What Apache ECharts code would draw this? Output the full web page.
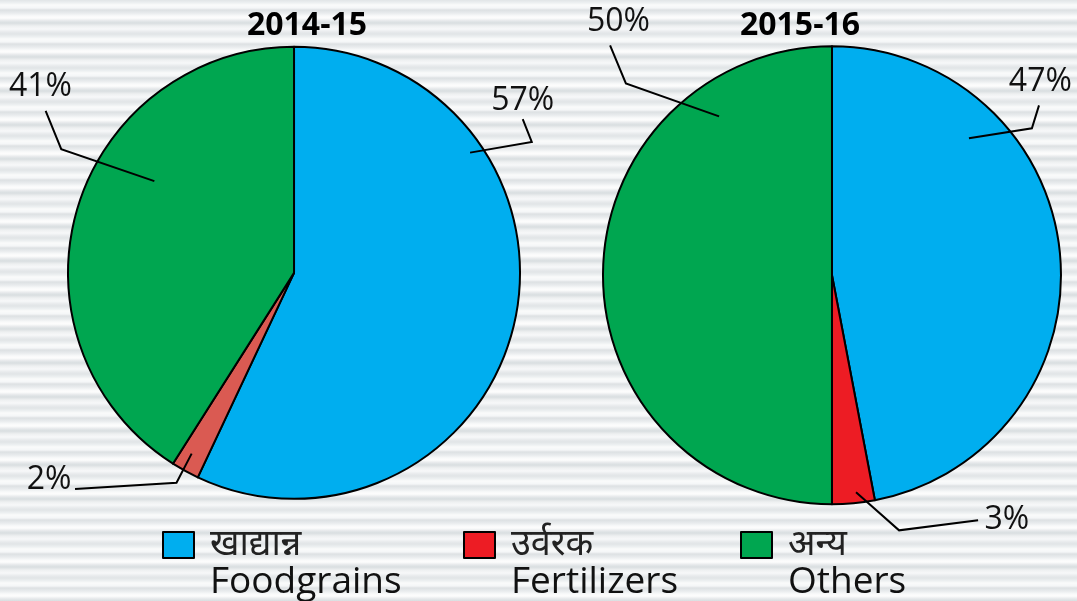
<!DOCTYPE html>
<html>
<head>
<meta charset="utf-8">
<script src="https://cdn.jsdelivr.net/npm/echarts@6/dist/echarts.min.js"></script>
<style>
  html, body { margin: 0; padding: 0; }
  #main {
    width: 1077px;
    height: 601px;
    background: repeating-linear-gradient(to bottom,
      #e1e5e7 0px, #eef1f2 3px, #fafbfb 5px, #f4f6f7 8px, #dde1e3 10px,
      #e8ebed 13px, #f9fafa 16px, #fdfdfd 18px, #e4e7e9 21px, #d9dee0 23px,
      #eef0f1 26px, #f7f8f9 29px, #e7eaec 32px, #e1e5e7 34px);
  }
</style>
</head>
<body>
<div id="main"></div>
<script>
var dom = document.getElementById('main');
var myChart = echarts.init(dom, null, { renderer: 'canvas' });

var categories = ['Foodgrains', 'Fertilizers', 'Others'];
var hindiNames = ['खाद्यान्न', 'उर्वरक', 'अन्य'];
var years = ['2014-15', '2015-16'];
var values2014 = [57, 2, 41];
var values2015 = [47, 3, 50];

var colors = ['#00aeef', '#ed1c24', '#00a650'];
var fertilizerOld = '#da5a52';

// pie placement (centre in % of the chart, radius in px)
var pieCenters = [['27.3%', '45.4%'], ['77.25%', '45.8%']];
var pieRadius = [226, 229];

// label spots relative to pie centre, in units of the radius
var spots2014 = [
  { label: [1.012, -0.761], start: [0.779, -0.532], elbow: [1.052, -0.579], end: [1.012, -0.68] },
  { label: [-1.084, 0.916], start: [-0.453, 0.8], elbow: [-0.52, 0.929], end: [-0.969, 0.956] },
  { label: [-1.122, -0.824], start: [-0.618, -0.406], elbow: [-1.03, -0.547], end: [-1.099, -0.717] }
];
var spots2015 = [
  { label: [0.91, -0.845], start: [0.598, -0.598], elbow: [0.873, -0.642], end: [0.904, -0.742] },
  { label: [0.764, 1.07], start: [0.105, 0.948], elbow: [0.293, 1.114], end: [0.638, 1.07] },
  { label: [-0.932, -1.105], start: [-0.493, -0.694], elbow: [-0.9, -0.838], end: [-0.969, -1.004] }
];

var legendLefts = [162, 463, 740];
var font = "'Open Sans', 'Noto Sans', sans-serif";

function pct(s, total) {
  return parseFloat(s) / 100 * total;
}

function placeLabels(spots, center, radius) {
  return function (params) {
    var cx = pct(center[0], myChart.getWidth());
    var cy = pct(center[1], myChart.getHeight());
    var s = spots[params.dataIndex];
    function pt(p) {
      return [cx + p[0] * radius, cy + p[1] * radius];
    }
    var lab = pt(s.label);
    return {
      x: lab[0],
      y: lab[1],
      align: 'center',
      verticalAlign: 'middle',
      labelLinePoints: [pt(s.start), pt(s.elbow), pt(s.end)]
    };
  };
}

// the filled pie
function pieSeries(name, values, idx, sliceColors) {
  return {
    type: 'pie',
    name: name,
    z: 2,
    center: pieCenters[idx],
    radius: pieRadius[idx],
    startAngle: 90,
    clockwise: true,
    itemStyle: { borderColor: '#000', borderWidth: 2 },
    label: { show: false },
    labelLine: { show: false },
    emphasis: { disabled: true },
    data: categories.map(function (c, i) {
      return { name: c, value: values[i], itemStyle: { color: sliceColors[i] } };
    })
  };
}

// same pie, see-through, on top: carries the labels so the leader lines show over the slices
function labelSeries(name, values, spots, idx) {
  return {
    type: 'pie',
    name: name,
    z: 3,
    silent: true,
    center: pieCenters[idx],
    radius: pieRadius[idx],
    startAngle: 90,
    clockwise: true,
    avoidLabelOverlap: false,
    itemStyle: { color: 'rgba(0,0,0,0)', borderWidth: 0 },
    label: {
      show: true,
      position: 'outside',
      formatter: '{c}%',
      color: '#111',
      fontSize: 32,
      fontFamily: font
    },
    labelLine: {
      show: true,
      smooth: false,
      lineStyle: { color: '#000', width: 2 }
    },
    labelLayout: placeLabels(spots, pieCenters[idx], pieRadius[idx]),
    emphasis: { disabled: true },
    data: categories.map(function (c, i) {
      return { name: c, value: values[i] };
    })
  };
}

var option = {
  animation: false,
  title: years.map(function (y, i) {
    return {
      text: y,
      left: [307, 800][i],
      top: 10,
      textAlign: 'center',
      padding: 0,
      textStyle: {
        fontFamily: font,
        fontWeight: 'bold',
        fontSize: 32,
        color: '#000'
      }
    };
  }),
  legend: categories.map(function (c, i) {
    return {
      data: [{ name: c, itemStyle: { color: colors[i] } }],
      left: legendLefts[i],
      top: 490,
      padding: 0,
      icon: 'rect',
      itemWidth: 31,
      itemHeight: 26,
      selectedMode: false,
      itemStyle: { borderColor: '#000', borderWidth: 2 },
      formatter: function (name) {
        return '{sp| }\n{hi|' + hindiNames[categories.indexOf(name)] + '}\n{en|' + name + '}';
      },
      textStyle: {
        rich: {
          sp: { fontSize: 36, lineHeight: 37, padding: [0, 0, 0, 11] },
          hi: { fontSize: 36, lineHeight: 37, color: '#222', fontFamily: "'Noto Sans', 'Noto Sans Devanagari', sans-serif", padding: [0, 0, 0, 11] },
          en: { fontSize: 37, lineHeight: 37, color: '#111', fontFamily: font, padding: [0, 0, 0, 11] }
        }
      }
    };
  }),
  series: [
    pieSeries(years[0], values2014, 0, [colors[0], fertilizerOld, colors[2]]),
    pieSeries(years[1], values2015, 1, colors),
    labelSeries(years[0], values2014, spots2014, 0),
    labelSeries(years[1], values2015, spots2015, 1)
  ]
};

myChart.setOption(option);

window.addEventListener('resize', myChart.resize);
</script>
</body>
</html>
